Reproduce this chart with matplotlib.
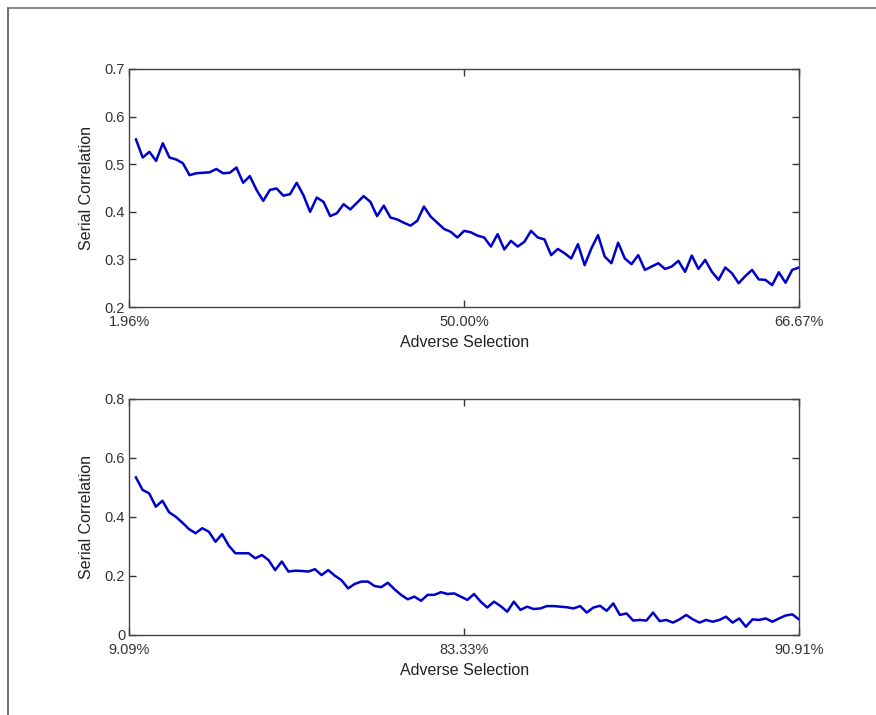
import numpy as np
import matplotlib.pyplot as plt
from matplotlib.lines import Line2D

plt.rcParams['font.family'] = ['Liberation Sans', 'DejaVu Sans']

# serial correlation vs adverse selection
corr_top = [0.552, 0.514, 0.526, 0.507, 0.544, 0.514, 0.510, 0.502, 0.477, 0.481,
            0.482, 0.483, 0.490, 0.481, 0.482, 0.493, 0.461, 0.475, 0.446, 0.423,
            0.446, 0.449, 0.434, 0.437, 0.461, 0.435, 0.400, 0.430, 0.421, 0.391,
            0.397, 0.416, 0.405, 0.419, 0.433, 0.421, 0.391, 0.413, 0.388, 0.384,
            0.377, 0.371, 0.381, 0.411, 0.390, 0.377, 0.364, 0.358, 0.346, 0.360,
            0.357, 0.350, 0.346, 0.327, 0.353, 0.321, 0.339, 0.327, 0.337, 0.360,
            0.346, 0.342, 0.309, 0.322, 0.313, 0.302, 0.332, 0.288, 0.323, 0.351,
            0.306, 0.292, 0.335, 0.302, 0.290, 0.309, 0.278, 0.285, 0.292, 0.280,
            0.285, 0.297, 0.274, 0.308, 0.280, 0.299, 0.274, 0.257, 0.283, 0.271,
            0.250, 0.265, 0.278, 0.258, 0.257, 0.246, 0.273, 0.251, 0.278, 0.283]
corr_bottom = [0.534, 0.492, 0.480, 0.435, 0.455, 0.416, 0.401, 0.381, 0.359, 0.345,
               0.362, 0.350, 0.316, 0.342, 0.303, 0.277, 0.277, 0.277, 0.260, 0.271,
               0.254, 0.220, 0.249, 0.215, 0.218, 0.217, 0.215, 0.223, 0.203, 0.220,
               0.201, 0.186, 0.158, 0.173, 0.181, 0.181, 0.166, 0.162, 0.177, 0.155,
               0.136, 0.121, 0.130, 0.116, 0.136, 0.136, 0.145, 0.139, 0.141, 0.130,
               0.119, 0.139, 0.113, 0.093, 0.113, 0.098, 0.079, 0.113, 0.085, 0.096,
               0.088, 0.090, 0.098, 0.098, 0.096, 0.094, 0.090, 0.098, 0.076, 0.093,
               0.099, 0.082, 0.107, 0.068, 0.073, 0.049, 0.051, 0.049, 0.076, 0.047,
               0.051, 0.042, 0.053, 0.068, 0.053, 0.042, 0.051, 0.045, 0.051, 0.062,
               0.042, 0.056, 0.028, 0.053, 0.051, 0.056, 0.045, 0.056, 0.066, 0.070,
               0.053]

xlabels_top = ['1.96%', '50.00%', '66.67%']
xlabels_bottom = ['9.09%', '83.33%', '90.91%']
yticks_top = [0.2, 0.3, 0.4, 0.5, 0.6, 0.7]
yticks_bottom = [0, 0.2, 0.4, 0.6, 0.8]

fig = plt.figure(figsize=(8.76, 7.15), dpi=100)

# partial frame around the figure, as in the original export
fig.add_artist(Line2D([7.5 / 876, 7.5 / 876], [0, 1 - 8 / 715], color='#555555', lw=1.2))
fig.add_artist(Line2D([7.5 / 876, 1], [1 - 8 / 715, 1 - 8 / 715], color='#777777', lw=1.2))

ax1 = fig.add_axes([0.1476, 0.5706, 0.7644, 0.3329])
ax2 = fig.add_axes([0.1476, 0.1119, 0.7644, 0.3301])


def style(ax, y, xlabels, yticks, ylim):
    n = len(y)
    ax.plot(np.arange(1, n + 1), y, color='#0000cc', lw=1.8)
    ax.set_xlim(0, n)
    ax.set_ylim(*ylim)
    ax.set_xticks([0, n / 2, n])
    ax.set_xticklabels(xlabels)
    ax.set_yticks(yticks)
    ax.set_yticklabels([f'{v:g}' for v in yticks])
    ax.tick_params(direction='in', length=5, width=1, top=True, right=True,
                   labelsize=10.5, colors='#333333')
    ax.tick_params(axis='x', pad=6)
    ax.tick_params(axis='y', pad=3)
    for s in ax.spines.values():
        s.set_color('#444444')
        s.set_linewidth(1)
    ax.set_xlabel('Adverse Selection', fontsize=11.5, color='#222222', labelpad=4)
    ax.set_ylabel('Serial Correlation', fontsize=11.5, color='#222222', labelpad=8)


style(ax1, corr_top, xlabels_top, yticks_top, (0.2, 0.7))
style(ax2, corr_bottom, xlabels_bottom, yticks_bottom, (0, 0.8))

fig.savefig('out.png', dpi=100)
